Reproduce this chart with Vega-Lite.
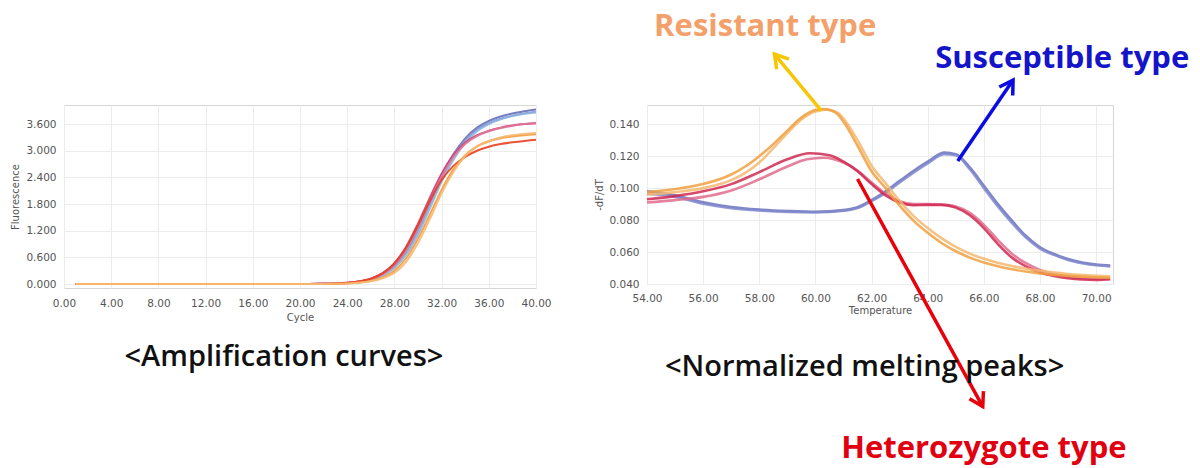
{
  "$schema": "https://vega.github.io/schema/vega-lite/v6.json",
  "background": "white",
  "padding": {"left": 10, "top": 10, "right": 0, "bottom": 14},
  "config": {
    "view": {"stroke": "#d6d6d6", "strokeWidth": 1},
    "axis": {
      "labelFont": "DejaVu Sans", "labelFontSize": 10.5, "labelColor": "#555555",
      "titleFont": "DejaVu Sans", "titleFontSize": 10, "titleFontWeight": "normal", "titleColor": "#555555",
      "domain": false, "ticks": false, "gridColor": "#ececec", "gridWidth": 1,
      "labelOverlap": false, "labelFlush": false, "labelBound": false
    }
  },
  "datasets": {
    "amp": [
      {"curve":"a1","cycle":1,"f":0},{"curve":"a1","cycle":20,"f":0},{"curve":"a1","cycle":22,"f":0.004},{"curve":"a1","cycle":23,"f":0.01},{"curve":"a1","cycle":24,"f":0.025},{"curve":"a1","cycle":25,"f":0.055},{"curve":"a1","cycle":26,"f":0.115},{"curve":"a1","cycle":27,"f":0.235},{"curve":"a1","cycle":28,"f":0.45},{"curve":"a1","cycle":29,"f":0.8},{"curve":"a1","cycle":30,"f":1.3},{"curve":"a1","cycle":31,"f":1.88},{"curve":"a1","cycle":32,"f":2.45},{"curve":"a1","cycle":33,"f":2.92},{"curve":"a1","cycle":34,"f":3.28},{"curve":"a1","cycle":35,"f":3.52},{"curve":"a1","cycle":36,"f":3.67},{"curve":"a1","cycle":37,"f":3.77},{"curve":"a1","cycle":38,"f":3.84},{"curve":"a1","cycle":39,"f":3.89},{"curve":"a1","cycle":40,"f":3.93},
      {"curve":"a2","cycle":1,"f":0},{"curve":"a2","cycle":20,"f":0},{"curve":"a2","cycle":22,"f":0.003},{"curve":"a2","cycle":23,"f":0.008},{"curve":"a2","cycle":24,"f":0.02},{"curve":"a2","cycle":25,"f":0.047},{"curve":"a2","cycle":26,"f":0.1},{"curve":"a2","cycle":27,"f":0.21},{"curve":"a2","cycle":28,"f":0.4},{"curve":"a2","cycle":29,"f":0.72},{"curve":"a2","cycle":30,"f":1.2},{"curve":"a2","cycle":31,"f":1.78},{"curve":"a2","cycle":32,"f":2.38},{"curve":"a2","cycle":33,"f":2.88},{"curve":"a2","cycle":34,"f":3.24},{"curve":"a2","cycle":35,"f":3.48},{"curve":"a2","cycle":36,"f":3.62},{"curve":"a2","cycle":37,"f":3.72},{"curve":"a2","cycle":38,"f":3.79},{"curve":"a2","cycle":39,"f":3.84},{"curve":"a2","cycle":40,"f":3.87},
      {"curve":"a3","cycle":1,"f":0},{"curve":"a3","cycle":20,"f":0},{"curve":"a3","cycle":22,"f":0.003},{"curve":"a3","cycle":23,"f":0.007},{"curve":"a3","cycle":24,"f":0.018},{"curve":"a3","cycle":25,"f":0.042},{"curve":"a3","cycle":26,"f":0.09},{"curve":"a3","cycle":27,"f":0.19},{"curve":"a3","cycle":28,"f":0.36},{"curve":"a3","cycle":29,"f":0.66},{"curve":"a3","cycle":30,"f":1.12},{"curve":"a3","cycle":31,"f":1.7},{"curve":"a3","cycle":32,"f":2.3},{"curve":"a3","cycle":33,"f":2.8},{"curve":"a3","cycle":34,"f":3.18},{"curve":"a3","cycle":35,"f":3.44},{"curve":"a3","cycle":36,"f":3.6},{"curve":"a3","cycle":37,"f":3.71},{"curve":"a3","cycle":38,"f":3.78},{"curve":"a3","cycle":39,"f":3.83},{"curve":"a3","cycle":40,"f":3.86},
      {"curve":"a4","cycle":1,"f":0},{"curve":"a4","cycle":20,"f":0},{"curve":"a4","cycle":22,"f":0.004},{"curve":"a4","cycle":23,"f":0.011},{"curve":"a4","cycle":24,"f":0.027},{"curve":"a4","cycle":25,"f":0.058},{"curve":"a4","cycle":26,"f":0.12},{"curve":"a4","cycle":27,"f":0.245},{"curve":"a4","cycle":28,"f":0.47},{"curve":"a4","cycle":29,"f":0.84},{"curve":"a4","cycle":30,"f":1.36},{"curve":"a4","cycle":31,"f":1.94},{"curve":"a4","cycle":32,"f":2.48},{"curve":"a4","cycle":33,"f":2.9},{"curve":"a4","cycle":34,"f":3.18},{"curve":"a4","cycle":35,"f":3.35},{"curve":"a4","cycle":36,"f":3.45},{"curve":"a4","cycle":37,"f":3.52},{"curve":"a4","cycle":38,"f":3.57},{"curve":"a4","cycle":39,"f":3.6},{"curve":"a4","cycle":40,"f":3.62},
      {"curve":"a5","cycle":1,"f":0},{"curve":"a5","cycle":20,"f":0},{"curve":"a5","cycle":22,"f":0.003},{"curve":"a5","cycle":23,"f":0.009},{"curve":"a5","cycle":24,"f":0.023},{"curve":"a5","cycle":25,"f":0.05},{"curve":"a5","cycle":26,"f":0.108},{"curve":"a5","cycle":27,"f":0.22},{"curve":"a5","cycle":28,"f":0.42},{"curve":"a5","cycle":29,"f":0.78},{"curve":"a5","cycle":30,"f":1.28},{"curve":"a5","cycle":31,"f":1.86},{"curve":"a5","cycle":32,"f":2.42},{"curve":"a5","cycle":33,"f":2.86},{"curve":"a5","cycle":34,"f":3.15},{"curve":"a5","cycle":35,"f":3.33},{"curve":"a5","cycle":36,"f":3.44},{"curve":"a5","cycle":37,"f":3.51},{"curve":"a5","cycle":38,"f":3.56},{"curve":"a5","cycle":39,"f":3.6},{"curve":"a5","cycle":40,"f":3.63},
      {"curve":"a6","cycle":1,"f":0},{"curve":"a6","cycle":20,"f":0},{"curve":"a6","cycle":22,"f":0.004},{"curve":"a6","cycle":23,"f":0.011},{"curve":"a6","cycle":24,"f":0.026},{"curve":"a6","cycle":25,"f":0.057},{"curve":"a6","cycle":26,"f":0.118},{"curve":"a6","cycle":27,"f":0.24},{"curve":"a6","cycle":28,"f":0.46},{"curve":"a6","cycle":29,"f":0.82},{"curve":"a6","cycle":30,"f":1.32},{"curve":"a6","cycle":31,"f":1.86},{"curve":"a6","cycle":32,"f":2.34},{"curve":"a6","cycle":33,"f":2.66},{"curve":"a6","cycle":34,"f":2.86},{"curve":"a6","cycle":35,"f":3.0},{"curve":"a6","cycle":36,"f":3.09},{"curve":"a6","cycle":37,"f":3.15},{"curve":"a6","cycle":38,"f":3.19},{"curve":"a6","cycle":39,"f":3.22},{"curve":"a6","cycle":40,"f":3.25},
      {"curve":"a7","cycle":1,"f":0},{"curve":"a7","cycle":20,"f":0},{"curve":"a7","cycle":22,"f":0.002},{"curve":"a7","cycle":23,"f":0.006},{"curve":"a7","cycle":24,"f":0.014},{"curve":"a7","cycle":25,"f":0.032},{"curve":"a7","cycle":26,"f":0.07},{"curve":"a7","cycle":27,"f":0.15},{"curve":"a7","cycle":28,"f":0.3},{"curve":"a7","cycle":29,"f":0.58},{"curve":"a7","cycle":30,"f":1.02},{"curve":"a7","cycle":31,"f":1.56},{"curve":"a7","cycle":32,"f":2.12},{"curve":"a7","cycle":33,"f":2.58},{"curve":"a7","cycle":34,"f":2.9},{"curve":"a7","cycle":35,"f":3.1},{"curve":"a7","cycle":36,"f":3.21},{"curve":"a7","cycle":37,"f":3.28},{"curve":"a7","cycle":38,"f":3.32},{"curve":"a7","cycle":39,"f":3.35},{"curve":"a7","cycle":40,"f":3.37},
      {"curve":"a8","cycle":1,"f":0},{"curve":"a8","cycle":20,"f":0},{"curve":"a8","cycle":22,"f":0.002},{"curve":"a8","cycle":23,"f":0.005},{"curve":"a8","cycle":24,"f":0.012},{"curve":"a8","cycle":25,"f":0.027},{"curve":"a8","cycle":26,"f":0.06},{"curve":"a8","cycle":27,"f":0.13},{"curve":"a8","cycle":28,"f":0.25},{"curve":"a8","cycle":29,"f":0.5},{"curve":"a8","cycle":30,"f":0.92},{"curve":"a8","cycle":31,"f":1.46},{"curve":"a8","cycle":32,"f":2.04},{"curve":"a8","cycle":33,"f":2.52},{"curve":"a8","cycle":34,"f":2.88},{"curve":"a8","cycle":35,"f":3.1},{"curve":"a8","cycle":36,"f":3.22},{"curve":"a8","cycle":37,"f":3.3},{"curve":"a8","cycle":38,"f":3.35},{"curve":"a8","cycle":39,"f":3.38},{"curve":"a8","cycle":40,"f":3.4}
    ],
    "melt": [
      {"curve":"s1","t":54,"v":0.098},{"curve":"s1","t":55,"v":0.0955},{"curve":"s1","t":56,"v":0.0912},{"curve":"s1","t":57,"v":0.0882},{"curve":"s1","t":58,"v":0.0866},{"curve":"s1","t":59,"v":0.0857},{"curve":"s1","t":60,"v":0.0852},{"curve":"s1","t":61,"v":0.0862},{"curve":"s1","t":61.5,"v":0.088},{"curve":"s1","t":62,"v":0.0925},{"curve":"s1","t":62.5,"v":0.098},{"curve":"s1","t":63,"v":0.1045},{"curve":"s1","t":64,"v":0.1165},{"curve":"s1","t":64.6,"v":0.1222},{"curve":"s1","t":65,"v":0.1212},{"curve":"s1","t":65.5,"v":0.113},{"curve":"s1","t":66,"v":0.1015},{"curve":"s1","t":66.5,"v":0.09},{"curve":"s1","t":67,"v":0.0796},{"curve":"s1","t":67.5,"v":0.07},{"curve":"s1","t":68,"v":0.063},{"curve":"s1","t":68.5,"v":0.0588},{"curve":"s1","t":69,"v":0.0556},{"curve":"s1","t":69.5,"v":0.0535},{"curve":"s1","t":70,"v":0.0522},{"curve":"s1","t":70.5,"v":0.0515},
      {"curve":"s2","t":54,"v":0.0965},{"curve":"s2","t":55,"v":0.0945},{"curve":"s2","t":56,"v":0.0902},{"curve":"s2","t":57,"v":0.0874},{"curve":"s2","t":58,"v":0.086},{"curve":"s2","t":59,"v":0.0851},{"curve":"s2","t":60,"v":0.0848},{"curve":"s2","t":61,"v":0.0858},{"curve":"s2","t":61.5,"v":0.0875},{"curve":"s2","t":62,"v":0.0918},{"curve":"s2","t":62.5,"v":0.097},{"curve":"s2","t":63,"v":0.1035},{"curve":"s2","t":64,"v":0.1155},{"curve":"s2","t":64.6,"v":0.1212},{"curve":"s2","t":65,"v":0.1205},{"curve":"s2","t":65.5,"v":0.1118},{"curve":"s2","t":66,"v":0.1},{"curve":"s2","t":66.5,"v":0.0885},{"curve":"s2","t":67,"v":0.0782},{"curve":"s2","t":67.5,"v":0.069},{"curve":"s2","t":68,"v":0.0622},{"curve":"s2","t":68.5,"v":0.0582},{"curve":"s2","t":69,"v":0.055},{"curve":"s2","t":69.5,"v":0.053},{"curve":"s2","t":70,"v":0.0517},{"curve":"s2","t":70.5,"v":0.051},
      {"curve":"h2","t":54,"v":0.091},{"curve":"h2","t":55,"v":0.0925},{"curve":"h2","t":56,"v":0.0945},{"curve":"h2","t":57,"v":0.0985},{"curve":"h2","t":58,"v":0.1055},{"curve":"h2","t":59,"v":0.1135},{"curve":"h2","t":59.7,"v":0.118},{"curve":"h2","t":60.3,"v":0.119},{"curve":"h2","t":61,"v":0.116},{"curve":"h2","t":61.5,"v":0.111},{"curve":"h2","t":62,"v":0.1035},{"curve":"h2","t":62.5,"v":0.0965},{"curve":"h2","t":63,"v":0.0918},{"curve":"h2","t":63.5,"v":0.09},{"curve":"h2","t":64,"v":0.09},{"curve":"h2","t":64.5,"v":0.0897},{"curve":"h2","t":65,"v":0.0885},{"curve":"h2","t":65.5,"v":0.0845},{"curve":"h2","t":66,"v":0.077},{"curve":"h2","t":66.5,"v":0.0675},{"curve":"h2","t":67,"v":0.059},{"curve":"h2","t":67.5,"v":0.053},{"curve":"h2","t":68,"v":0.0488},{"curve":"h2","t":68.5,"v":0.0462},{"curve":"h2","t":69,"v":0.0446},{"curve":"h2","t":69.5,"v":0.0437},{"curve":"h2","t":70,"v":0.0433},{"curve":"h2","t":70.5,"v":0.0432},
      {"curve":"h1","t":54,"v":0.093},{"curve":"h1","t":55,"v":0.095},{"curve":"h1","t":56,"v":0.098},{"curve":"h1","t":57,"v":0.1025},{"curve":"h1","t":58,"v":0.11},{"curve":"h1","t":59,"v":0.118},{"curve":"h1","t":59.8,"v":0.1218},{"curve":"h1","t":60.5,"v":0.1205},{"curve":"h1","t":61,"v":0.1165},{"curve":"h1","t":61.5,"v":0.1105},{"curve":"h1","t":62,"v":0.1025},{"curve":"h1","t":62.5,"v":0.0955},{"curve":"h1","t":63,"v":0.091},{"curve":"h1","t":63.5,"v":0.0893},{"curve":"h1","t":64,"v":0.0895},{"curve":"h1","t":64.5,"v":0.0895},{"curve":"h1","t":65,"v":0.0878},{"curve":"h1","t":65.5,"v":0.083},{"curve":"h1","t":66,"v":0.075},{"curve":"h1","t":66.5,"v":0.065},{"curve":"h1","t":67,"v":0.0565},{"curve":"h1","t":67.5,"v":0.051},{"curve":"h1","t":68,"v":0.0472},{"curve":"h1","t":68.5,"v":0.045},{"curve":"h1","t":69,"v":0.0436},{"curve":"h1","t":69.5,"v":0.0428},{"curve":"h1","t":70,"v":0.0425},{"curve":"h1","t":70.5,"v":0.043},
      {"curve":"r2","t":54,"v":0.096},{"curve":"r2","t":55,"v":0.0975},{"curve":"r2","t":56,"v":0.1},{"curve":"r2","t":57,"v":0.105},{"curve":"r2","t":57.5,"v":0.1095},{"curve":"r2","t":58,"v":0.116},{"curve":"r2","t":58.5,"v":0.125},{"curve":"r2","t":59,"v":0.1345},{"curve":"r2","t":59.5,"v":0.143},{"curve":"r2","t":60,"v":0.148},{"curve":"r2","t":60.4,"v":0.149},{"curve":"r2","t":60.8,"v":0.147},{"curve":"r2","t":61,"v":0.1435},{"curve":"r2","t":61.5,"v":0.13},{"curve":"r2","t":62,"v":0.114},{"curve":"r2","t":62.5,"v":0.103},{"curve":"r2","t":63,"v":0.092},{"curve":"r2","t":63.5,"v":0.0825},{"curve":"r2","t":64,"v":0.075},{"curve":"r2","t":64.5,"v":0.0685},{"curve":"r2","t":65,"v":0.0632},{"curve":"r2","t":65.5,"v":0.059},{"curve":"r2","t":66,"v":0.0558},{"curve":"r2","t":67,"v":0.0512},{"curve":"r2","t":68,"v":0.0482},{"curve":"r2","t":69,"v":0.0463},{"curve":"r2","t":70,"v":0.0452},{"curve":"r2","t":70.5,"v":0.0448},
      {"curve":"r1","t":54,"v":0.0975},{"curve":"r1","t":55,"v":0.0994},{"curve":"r1","t":56,"v":0.1025},{"curve":"r1","t":57,"v":0.1085},{"curve":"r1","t":57.5,"v":0.1135},{"curve":"r1","t":58,"v":0.12},{"curve":"r1","t":58.5,"v":0.1275},{"curve":"r1","t":59,"v":0.136},{"curve":"r1","t":59.5,"v":0.1442},{"curve":"r1","t":60,"v":0.1488},{"curve":"r1","t":60.3,"v":0.1495},{"curve":"r1","t":60.7,"v":0.1475},{"curve":"r1","t":61,"v":0.1415},{"curve":"r1","t":61.5,"v":0.1265},{"curve":"r1","t":62,"v":0.1105},{"curve":"r1","t":62.5,"v":0.1},{"curve":"r1","t":63,"v":0.089},{"curve":"r1","t":63.5,"v":0.0795},{"curve":"r1","t":64,"v":0.072},{"curve":"r1","t":64.5,"v":0.0655},{"curve":"r1","t":65,"v":0.0605},{"curve":"r1","t":65.5,"v":0.0565},{"curve":"r1","t":66,"v":0.0535},{"curve":"r1","t":67,"v":0.0492},{"curve":"r1","t":68,"v":0.0466},{"curve":"r1","t":69,"v":0.0451},{"curve":"r1","t":70,"v":0.0442},{"curve":"r1","t":70.5,"v":0.0438}
    ],
    "arrows": [
      {"curve":"arr_res","t":60.21,"v":0.1484,"t2":58.54,"v2":0.1839},
      {"curve":"arr_sus","t":65.07,"v":0.117,"t2":67.04,"v2":0.1676},
      {"curve":"arr_het","t":61.5,"v":0.1057,"t2":65.96,"v2":-0.0367}
    ],
    "labels": [
      {"curve":"lab_res","t":58.21,"v":0.2005,"label":"Resistant type"},
      {"curve":"lab_sus","t":68.79,"v":0.1808,"label":"Susceptible type"},
      {"curve":"lab_het","t":66.0,"v":-0.0635,"label":"Heterozygote type"}
    ]
  },
  "hconcat": [
    {
      "width": 472,
      "height": 183,
      "layer": [
        {
          "data": {"name": "amp"},
          "mark": {"type": "line", "interpolate": "monotone", "strokeWidth": 2, "opacity": 0.9},
          "encoding": {
            "x": {"field": "cycle", "type": "quantitative",
              "scale": {"domain": [0, 40], "nice": false, "zero": false},
              "axis": {"values": [0,4,8,12,16,20,24,28,32,36,40], "tickCount": 20, "format": ".2f", "title": "Cycle", "labelPadding": 10, "titlePadding": 4}},
            "y": {"field": "f", "type": "quantitative",
              "scale": {"domain": [-0.09, 4.03], "nice": false, "zero": false},
              "axis": {"values": [0,0.6,1.2,1.8,2.4,3.0,3.6], "tickCount": 20, "format": ".3f", "title": "Fluorescence", "labelPadding": 8, "titlePadding": 5}},
            "color": {"field": "curve", "type": "nominal", "legend": null,
              "scale": {"domain": ["a1","a2","a3","a4","a5","a6","a7","a8"],
                "range": ["#6670B8","#8A90CC","#88B4E4","#D2386E","#E0789A","#E8401E","#F29A3A","#F7B870"]}}
          }
        },
        {
          "data": {"values": [{"cycle": 18.64, "f": -1.64, "caption": "<Amplification curves>"}]},
          "mark": {"type": "text", "font": "Open Sans", "fontSize": 29, "fontWeight": 600, "color": "#111111", "align": "center", "baseline": "middle"},
          "encoding": {
            "x": {"field": "cycle", "type": "quantitative"},
            "y": {"field": "f", "type": "quantitative"},
            "text": {"field": "caption"}
          }
        }
      ]
    },
    {
      "width": 466,
      "height": 179,
      "layer": [
        {
          "data": {"name": "melt"},
          "mark": {"type": "line", "interpolate": "monotone", "strokeWidth": 2.6, "opacity": 0.85},
          "encoding": {
            "x": {"field": "t", "type": "quantitative",
              "scale": {"domain": [54, 70.6], "nice": false, "zero": false},
              "axis": {"values": [54,56,58,60,62,64,66,68,70], "tickCount": 20, "format": ".2f", "title": "Temperature", "labelPadding": 9, "titlePadding": 2}},
            "y": {"field": "v", "type": "quantitative",
              "scale": {"domain": [0.04, 0.152], "nice": false, "zero": false},
              "axis": {"values": [0.04,0.06,0.08,0.1,0.12,0.14], "tickCount": 20, "format": ".3f", "title": "-dF/dT", "labelPadding": 8, "titlePadding": 4}},
            "color": {"field": "curve", "type": "nominal", "legend": null,
              "scale": {"domain": ["s1","s2","r1","r2","h1","h2","arr_res","arr_sus","arr_het","lab_res","lab_sus","lab_het"],
                "range": ["#6A72BE","#8088CC","#F0A040","#F5B870","#D02850","#E06A8C","#F7C600","#0A0AE6","#E8000A","#F4A06A","#1414C8","#E00010"]}}
          }
        },
        {
          "data": {"name": "arrows"},
          "mark": {"type": "rule", "strokeWidth": 3.5},
          "encoding": {
            "x": {"field": "t", "type": "quantitative"},
            "y": {"field": "v", "type": "quantitative"},
            "x2": {"field": "t2"},
            "y2": {"field": "v2"},
            "color": {"field": "curve", "type": "nominal", "legend": null}
          }
        },
        {
          "data": {"name": "arrows"},
          "transform": [{"filter": "datum.curve == 'arr_res'"}],
          "mark": {"type": "point", "shape": "M -0.6 1 L 0 0 L 0.6 1", "filled": false, "size": 700, "strokeWidth": 3.5, "opacity": 1, "strokeJoin": "miter", "angle": 320.5},
          "encoding": {
            "x": {"field": "t2", "type": "quantitative"},
            "y": {"field": "v2", "type": "quantitative"},
            "color": {"field": "curve", "type": "nominal", "legend": null}
          }
        },
        {
          "data": {"name": "arrows"},
          "transform": [{"filter": "datum.curve == 'arr_sus'"}],
          "mark": {"type": "point", "shape": "M -0.6 1 L 0 0 L 0.6 1", "filled": false, "size": 700, "strokeWidth": 3.5, "opacity": 1, "strokeJoin": "miter", "angle": 32.2},
          "encoding": {
            "x": {"field": "t2", "type": "quantitative"},
            "y": {"field": "v2", "type": "quantitative"},
            "color": {"field": "curve", "type": "nominal", "legend": null}
          }
        },
        {
          "data": {"name": "arrows"},
          "transform": [{"filter": "datum.curve == 'arr_het'"}],
          "mark": {"type": "point", "shape": "M -0.6 1 L 0 0 L 0.6 1", "filled": false, "size": 700, "strokeWidth": 3.5, "opacity": 1, "strokeJoin": "miter", "angle": 151.6},
          "encoding": {
            "x": {"field": "t2", "type": "quantitative"},
            "y": {"field": "v2", "type": "quantitative"},
            "color": {"field": "curve", "type": "nominal", "legend": null}
          }
        },
        {
          "data": {"name": "labels"},
          "mark": {"type": "text", "font": "Open Sans", "fontSize": 31, "fontWeight": "bold", "align": "center", "baseline": "middle"},
          "encoding": {
            "x": {"field": "t", "type": "quantitative"},
            "y": {"field": "v", "type": "quantitative"},
            "text": {"field": "label"},
            "color": {"field": "curve", "type": "nominal", "legend": null}
          }
        },
        {
          "data": {"values": [{"t": 61.75, "v": -0.0119, "caption": "<Normalized  melting  peaks>"}]},
          "mark": {"type": "text", "font": "Open Sans", "fontSize": 29, "fontWeight": 600, "color": "#111111", "align": "center", "baseline": "middle"},
          "encoding": {
            "x": {"field": "t", "type": "quantitative"},
            "y": {"field": "v", "type": "quantitative"},
            "text": {"field": "caption"}
          }
        }
      ]
    }
  ],
  "spacing": 111,
  "bounds": "flush",
  "resolve": {"scale": {"color": "independent", "x": "independent", "y": "independent"}}
}
